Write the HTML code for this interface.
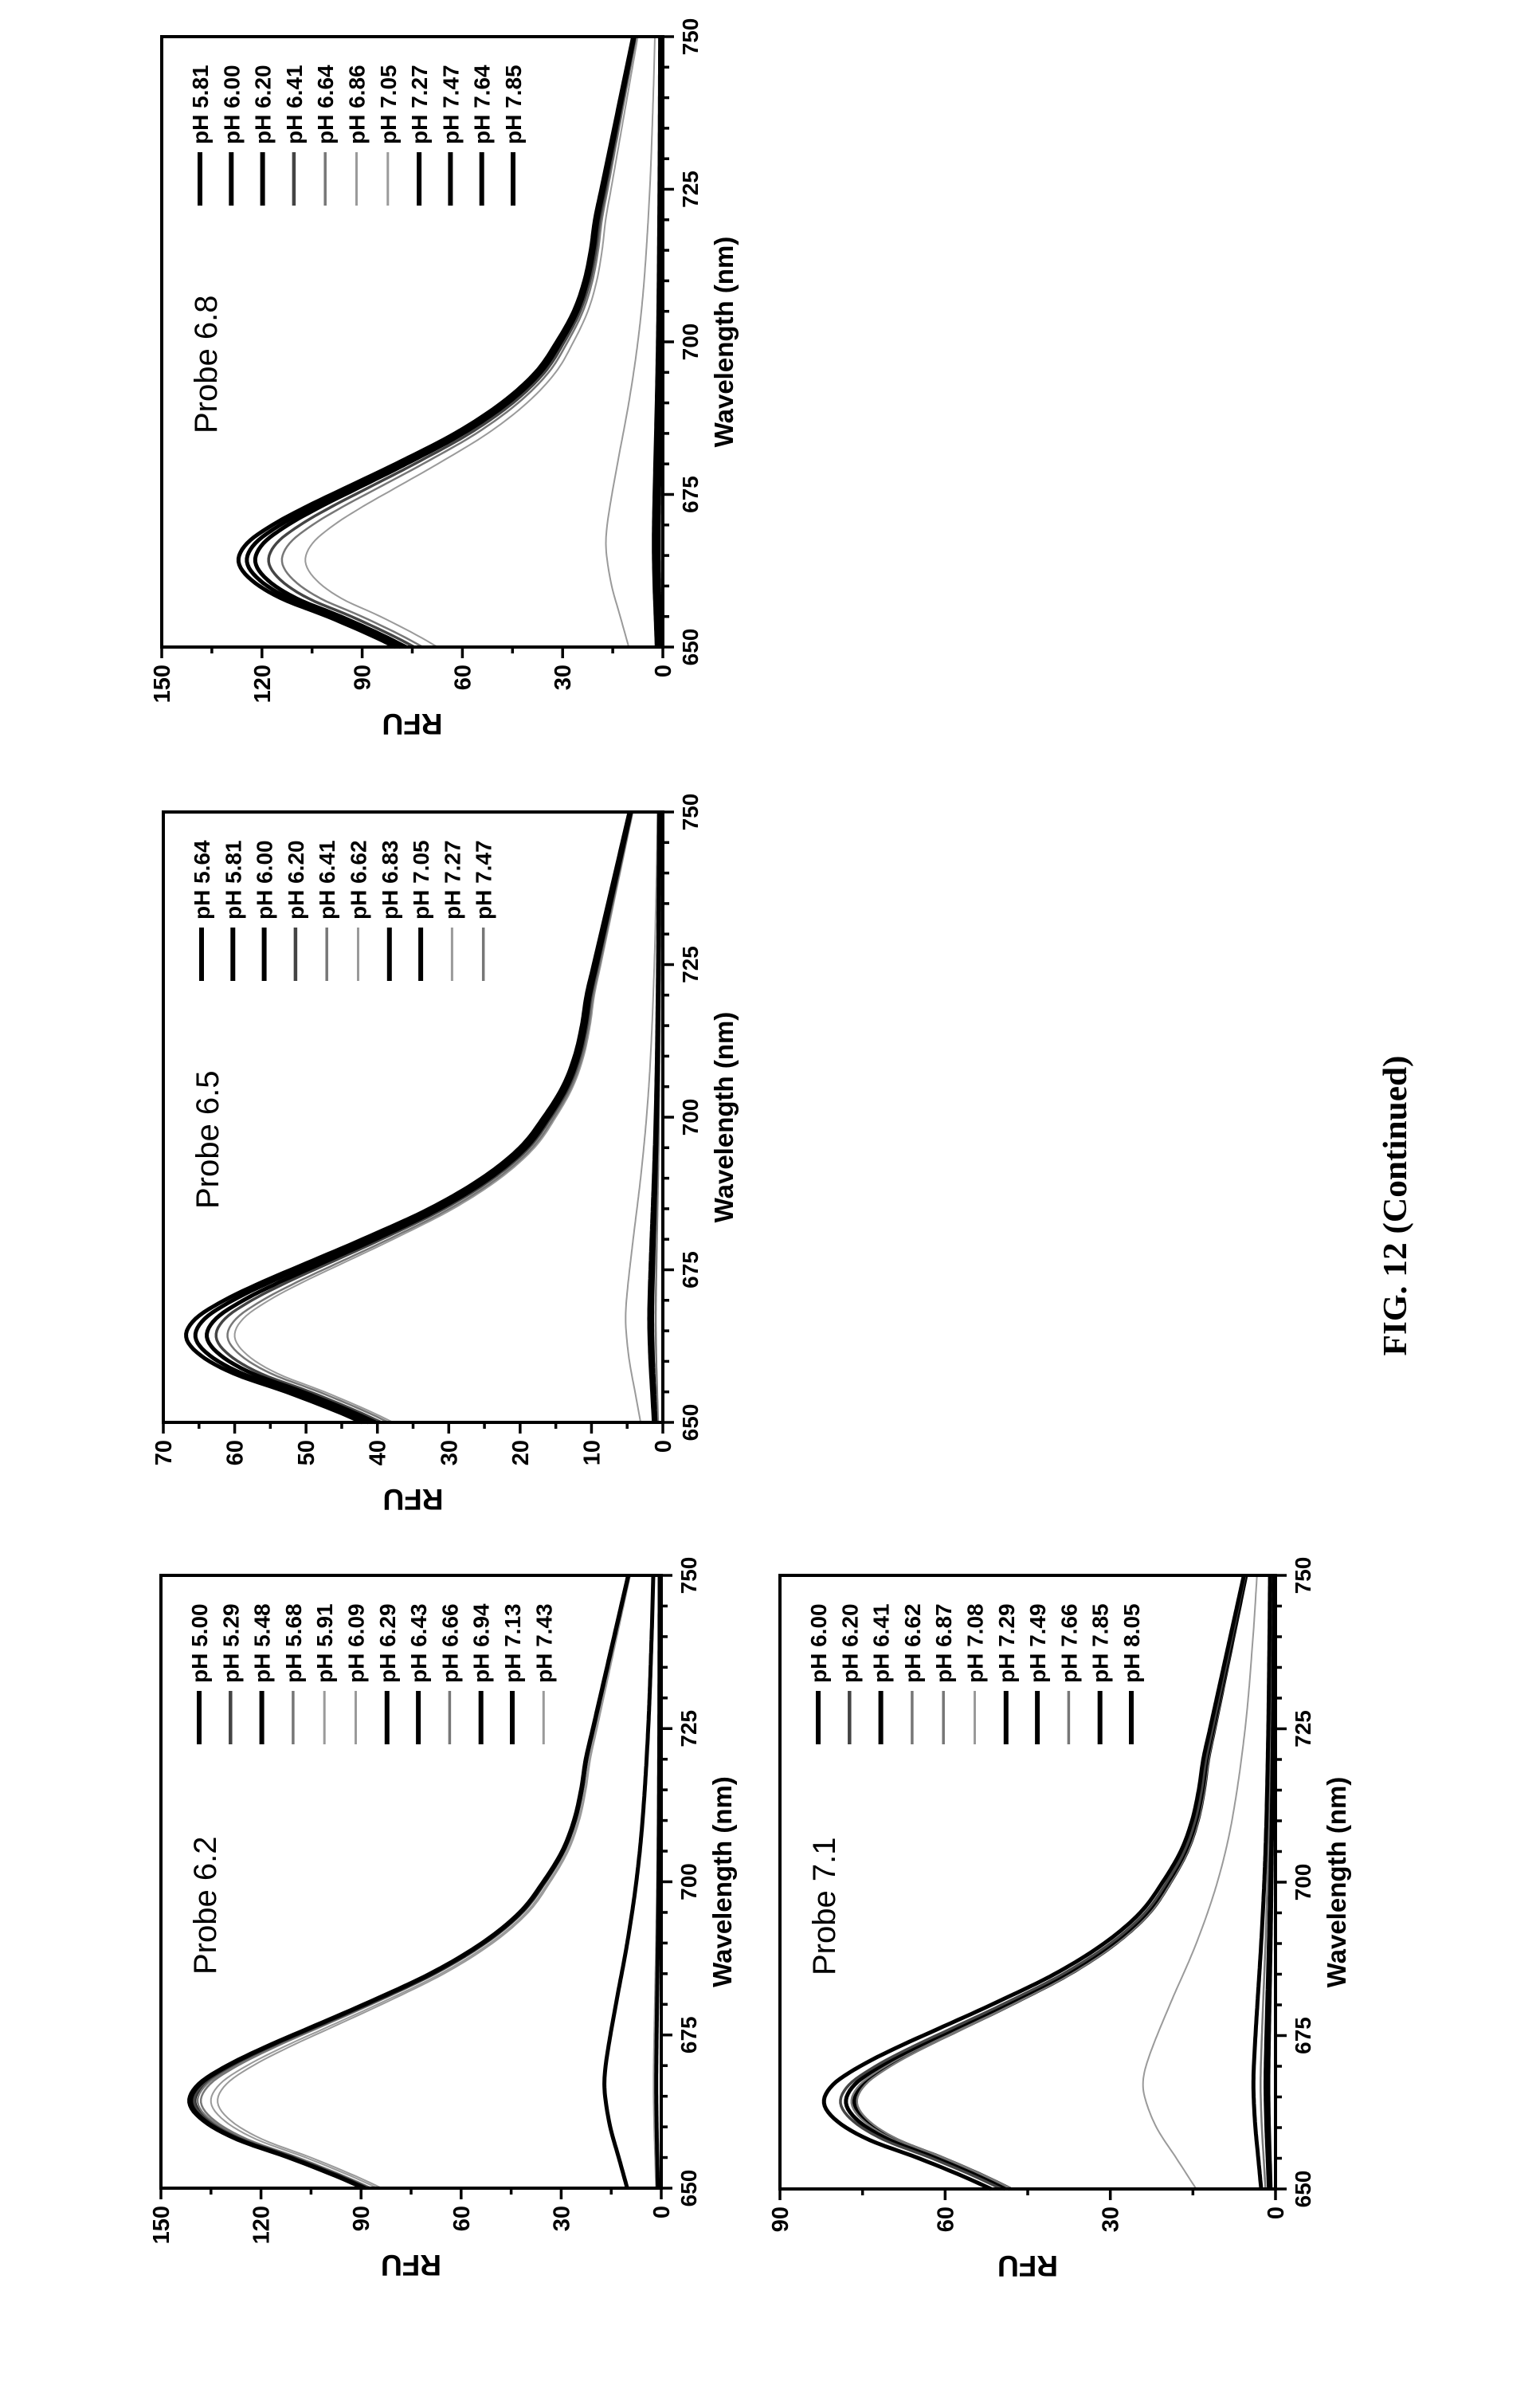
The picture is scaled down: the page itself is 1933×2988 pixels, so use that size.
<!DOCTYPE html>
<html><head><meta charset="utf-8">
<style>
html,body{margin:0;padding:0;background:#fff;}
svg{display:block;}
text{font-family:"Liberation Sans",Arial,sans-serif;}
</style></head>
<body>
<svg id="s" xmlns="http://www.w3.org/2000/svg" width="1933" height="2988" viewBox="0 0 1933 2988">
<rect width="1933" height="2988" fill="#fff"/>
<text transform="translate(1765,1513) rotate(-90)" text-anchor="middle" font-family="Liberation Serif, serif" font-weight="bold" font-size="42" textLength="377" lengthAdjust="spacingAndGlyphs" style="font-family:'Liberation Serif',serif">FIG. 12 (Continued)</text>
</svg>
<script>
(function(){
var NS="http://www.w3.org/2000/svg";
var svg=document.getElementById('s');
function el(tag,attrs,parent,txt){var e=document.createElementNS(NS,tag);for(var k in attrs)e.setAttribute(k,attrs[k]);if(txt!==undefined)e.textContent=txt;(parent||svg).appendChild(e);return e;}
var MAIN=[[650,.63],[652,.69],[655,.79],[658,.90],[661,.97],[664,1.0],[667,.98],[670,.92],[673,.84],[676,.75],[680,.63],[685,.49],[690,.38],[695,.30],[700,.25],[705,.21],[710,.185],[715,.17],[720,.16],[725,.145],[730,.13],[735,.115],[740,.10],[745,.085],[750,.07]];
var LOW=[[650,.6],[655,.75],[660,.9],[665,.99],[668,1],[672,.95],[680,.8],[690,.6],[700,.44],[710,.33],[725,.23],[740,.17],[750,.14]];
function interp(tab,x){
  for(var i=0;i<tab.length-1;i++){
    if(x>=tab[i][0]&&x<=tab[i+1][0]){
      var p0=tab[Math.max(i-1,0)],p1=tab[i],p2=tab[i+1],p3=tab[Math.min(i+2,tab.length-1)];
      var t=(x-p1[0])/(p2[0]-p1[0]);
      var h=p2[0]-p1[0];
      var m1=(p2[1]-p0[1])/(p2[0]-p0[0]||1)*h, m2=(p3[1]-p1[1])/(p3[0]-p1[0]||1)*h;
      var t2=t*t,t3=t2*t;
      return (2*t3-3*t2+1)*p1[1]+(t3-2*t2+t)*m1+(-2*t3+3*t2)*p2[1]+(t3-t2)*m2;
    }
  }
  return tab[tab.length-1][1];
}
var STY={k:{c:"#000",w:5},k2:{c:"#111",w:4},d:{c:"#444",w:3.5},g:{c:"#777",w:2.5},l:{c:"#9a9a9a",w:2}};
function chart(L,T,R,B,ymax,ymaj,ymin,title,entries){
  var W=B-T,H=R-L;
  var g=el('g',{transform:'translate('+L+','+B+') rotate(-90)'});
  function sx(l){return (l-650)/100*W;}
  function sy(v){return H-v/ymax*H;}
  // curves (draw in reverse so first entries on top)
  for(var j=entries.length-1;j>=0;j--){
    var e=entries[j],st=STY[e.s],d='';
    for(var l=650;l<=750;l+=0.5){
      var v=e.sh==='m'?e.p*interp(MAIN,l):(e.b||0)+e.p*interp(LOW,l);
      d+=(l===650?'M':'L')+sx(l).toFixed(1)+','+sy(v).toFixed(1);
    }
    el('path',{d:d,fill:'none',stroke:st.c,'stroke-width':st.w,'stroke-linejoin':'round'},g);
  }
  el('rect',{x:0,y:0,width:W,height:H,fill:'none',stroke:'#000','stroke-width':4},g);
  for(var l=650;l<=750;l+=5){
    var maj=(l-650)%25===0;
    el('line',{x1:sx(l),y1:H,x2:sx(l),y2:H+(maj?14:8),stroke:'#000','stroke-width':3.5},g);
    if(maj) el('text',{x:sx(l),y:H+44,'text-anchor':'middle','font-size':28,'font-weight':'bold'},g,String(l));
  }
  for(var v=0;v<=ymax+0.001;v+=ymin){
    var maj=Math.abs(v/ymaj-Math.round(v/ymaj))<1e-6;
    el('line',{x1:0,y1:sy(v),x2:-(maj?14:8),y2:sy(v),stroke:'#000','stroke-width':3.5},g);
    if(maj) el('text',{x:-22,y:sy(v)+10,'text-anchor':'end','font-size':29,'font-weight':'bold'},g,String(v));
  }
  el('text',{transform:'translate(-84,'+(H/2)+') rotate(-90)','text-anchor':'middle','font-size':37,'font-weight':'bold'},g,'RFU');
  el('text',{x:W/2,y:H+88,'text-anchor':'middle','font-size':33,'font-weight':'bold'},g,'Wavelength (nm)');
  el('text',{x:268,y:69,'font-size':40},g,title);
  for(var i=0;i<entries.length;i++){
    var y=48+39.3*i,st=STY[entries[i].s];
    el('line',{x1:W-212,y1:y,x2:W-145,y2:y,stroke:st.c,'stroke-width':st.w+1},g);
    el('text',{x:W-135,y:y+10,'font-size':28,'font-weight':'bold'},g,'pH '+entries[i].t);
  }
}
function M(t,p,s){return {t:t,p:p,sh:'m',s:s};}
function Lw(t,p,s,b){return {t:t,p:p,sh:'l',s:s,b:b||0};}
chart(203,46,832,812,150,30,15,'Probe 6.8',[
  M('5.81',127,'k'),M('6.00',124.5,'k'),M('6.20',122,'k'),M('6.41',118,'d'),M('6.64',114,'g'),
  M('6.86',107,'l'),Lw('7.05',17,'l'),Lw('7.27',2.2,'k',0.5),Lw('7.47',1.6,'k',0.4),Lw('7.64',1.2,'k',0.3),Lw('7.85',0.9,'k',0.3)]);
chart(205,1019,832,1785,70,10,5,'Probe 6.5',[
  M('5.64',66.8,'k'),M('5.81',65.5,'k'),M('6.00',63.9,'k'),M('6.20',62.6,'d'),M('6.41',61,'g'),
  M('6.62',60,'l'),Lw('6.83',1.6,'k',0.3),Lw('7.05',1.2,'k',0.3),Lw('7.27',5.2,'l'),Lw('7.47',0.8,'g',0.2)]);
chart(202,1977,830,2746,150,30,15,'Probe 6.2',[
  M('5.00',141,'k'),M('5.29',140,'d'),M('5.48',140.5,'k'),M('5.68',139,'g'),M('5.91',133,'l'),
  M('6.09',135,'l'),M('6.29',141.5,'k'),M('6.43',140,'k'),M('6.66',138,'g'),Lw('6.94',17,'k'),
  Lw('7.13',1.2,'k',0.3),Lw('7.43',1.8,'l',0.5)]);
chart(979,1977,1601,2747,90,30,15,'Probe 7.1',[
  M('6.00',82,'k'),M('6.20',79,'d'),M('6.41',78,'k'),M('6.62',77,'g'),M('6.87',76,'g'),
  Lw('7.08',24,'l'),M('7.29',76.5,'k'),Lw('7.49',3.5,'k',0.5),Lw('7.66',2.2,'g',0.5),Lw('7.85',1.5,'k',0.3),Lw('8.05',1,'k',0.3)]);
})();
</script>
</body></html>
